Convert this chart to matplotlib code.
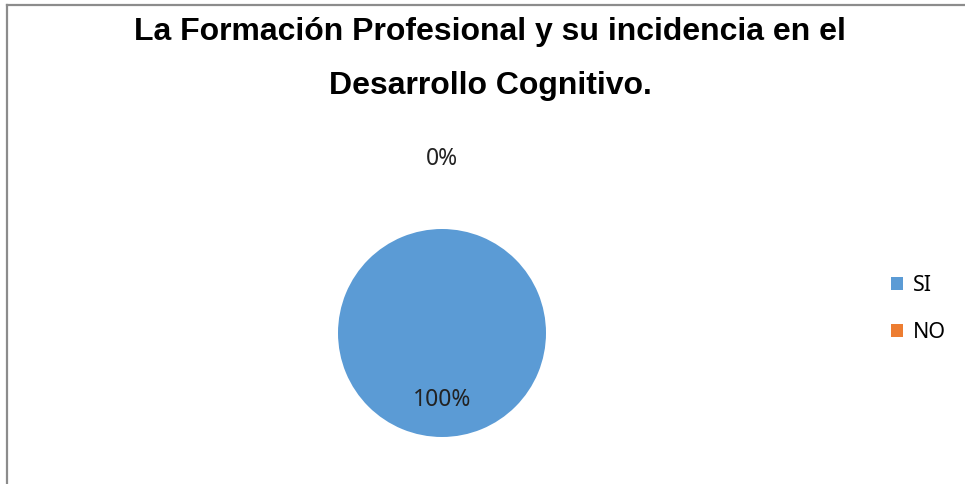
import matplotlib
matplotlib.use('Agg')
import matplotlib.pyplot as plt
from matplotlib.lines import Line2D
from matplotlib.patches import Patch

categorias = ['SI', 'NO']
valores = [100, 0]
colores = ['#5B9BD5', '#ED7D31']
titulo = 'La Formación Profesional y su incidencia en el\nDesarrollo Cognitivo.'

W, H = 965, 484
fig = plt.figure(figsize=(W / 100, H / 100), dpi=100)

# borde gris (solo arriba e izquierda visibles)
fig.add_artist(Line2D([7 / W, 1], [1 - 5 / H, 1 - 5 / H], color='#8c8c8c', lw=1.6))
fig.add_artist(Line2D([7 / W, 7 / W], [0, 1 - 5 / H], color='#8c8c8c', lw=1.6))

fig.text(490 / W, 1 - 59 / H, titulo, ha='center', va='center',
         fontsize=23, fontweight='bold', family='Liberation Sans', linespacing=2.08)

# pie: centro (442, 333), radio 104 px
cx, cy, r = 442, 333, 104
half = 150
ax = fig.add_axes([(cx - half) / W, (H - cy - half) / H, 2 * half / W, 2 * half / H])
wedges, texts, autotexts = ax.pie(valores, colors=colores, startangle=90, counterclock=False,
                                  autopct='%1.0f%%', pctdistance=0.645,
                                  textprops=dict(fontsize=16.5, family='Noto Sans', color='#222222'))
ax.set_xlim(-half / r, half / r)
ax.set_ylim(-half / r, half / r)
ax.set_aspect('equal')
ax.axis('off')
# etiqueta del 0% encima del circulo
autotexts[1].set_position((0, 1.67))

handles = [Patch(facecolor=c, edgecolor='none') for c in colores]
fig.legend(handles, categorias, loc='center left', bbox_to_anchor=(872 / W, 1 - 309 / H),
           frameon=False, prop=dict(family='Noto Sans', size=15.5),
           handlelength=0.55, handleheight=0.55, handletextpad=0.45, labelspacing=1.2)

fig.savefig('out.png', dpi=100, facecolor='white')
